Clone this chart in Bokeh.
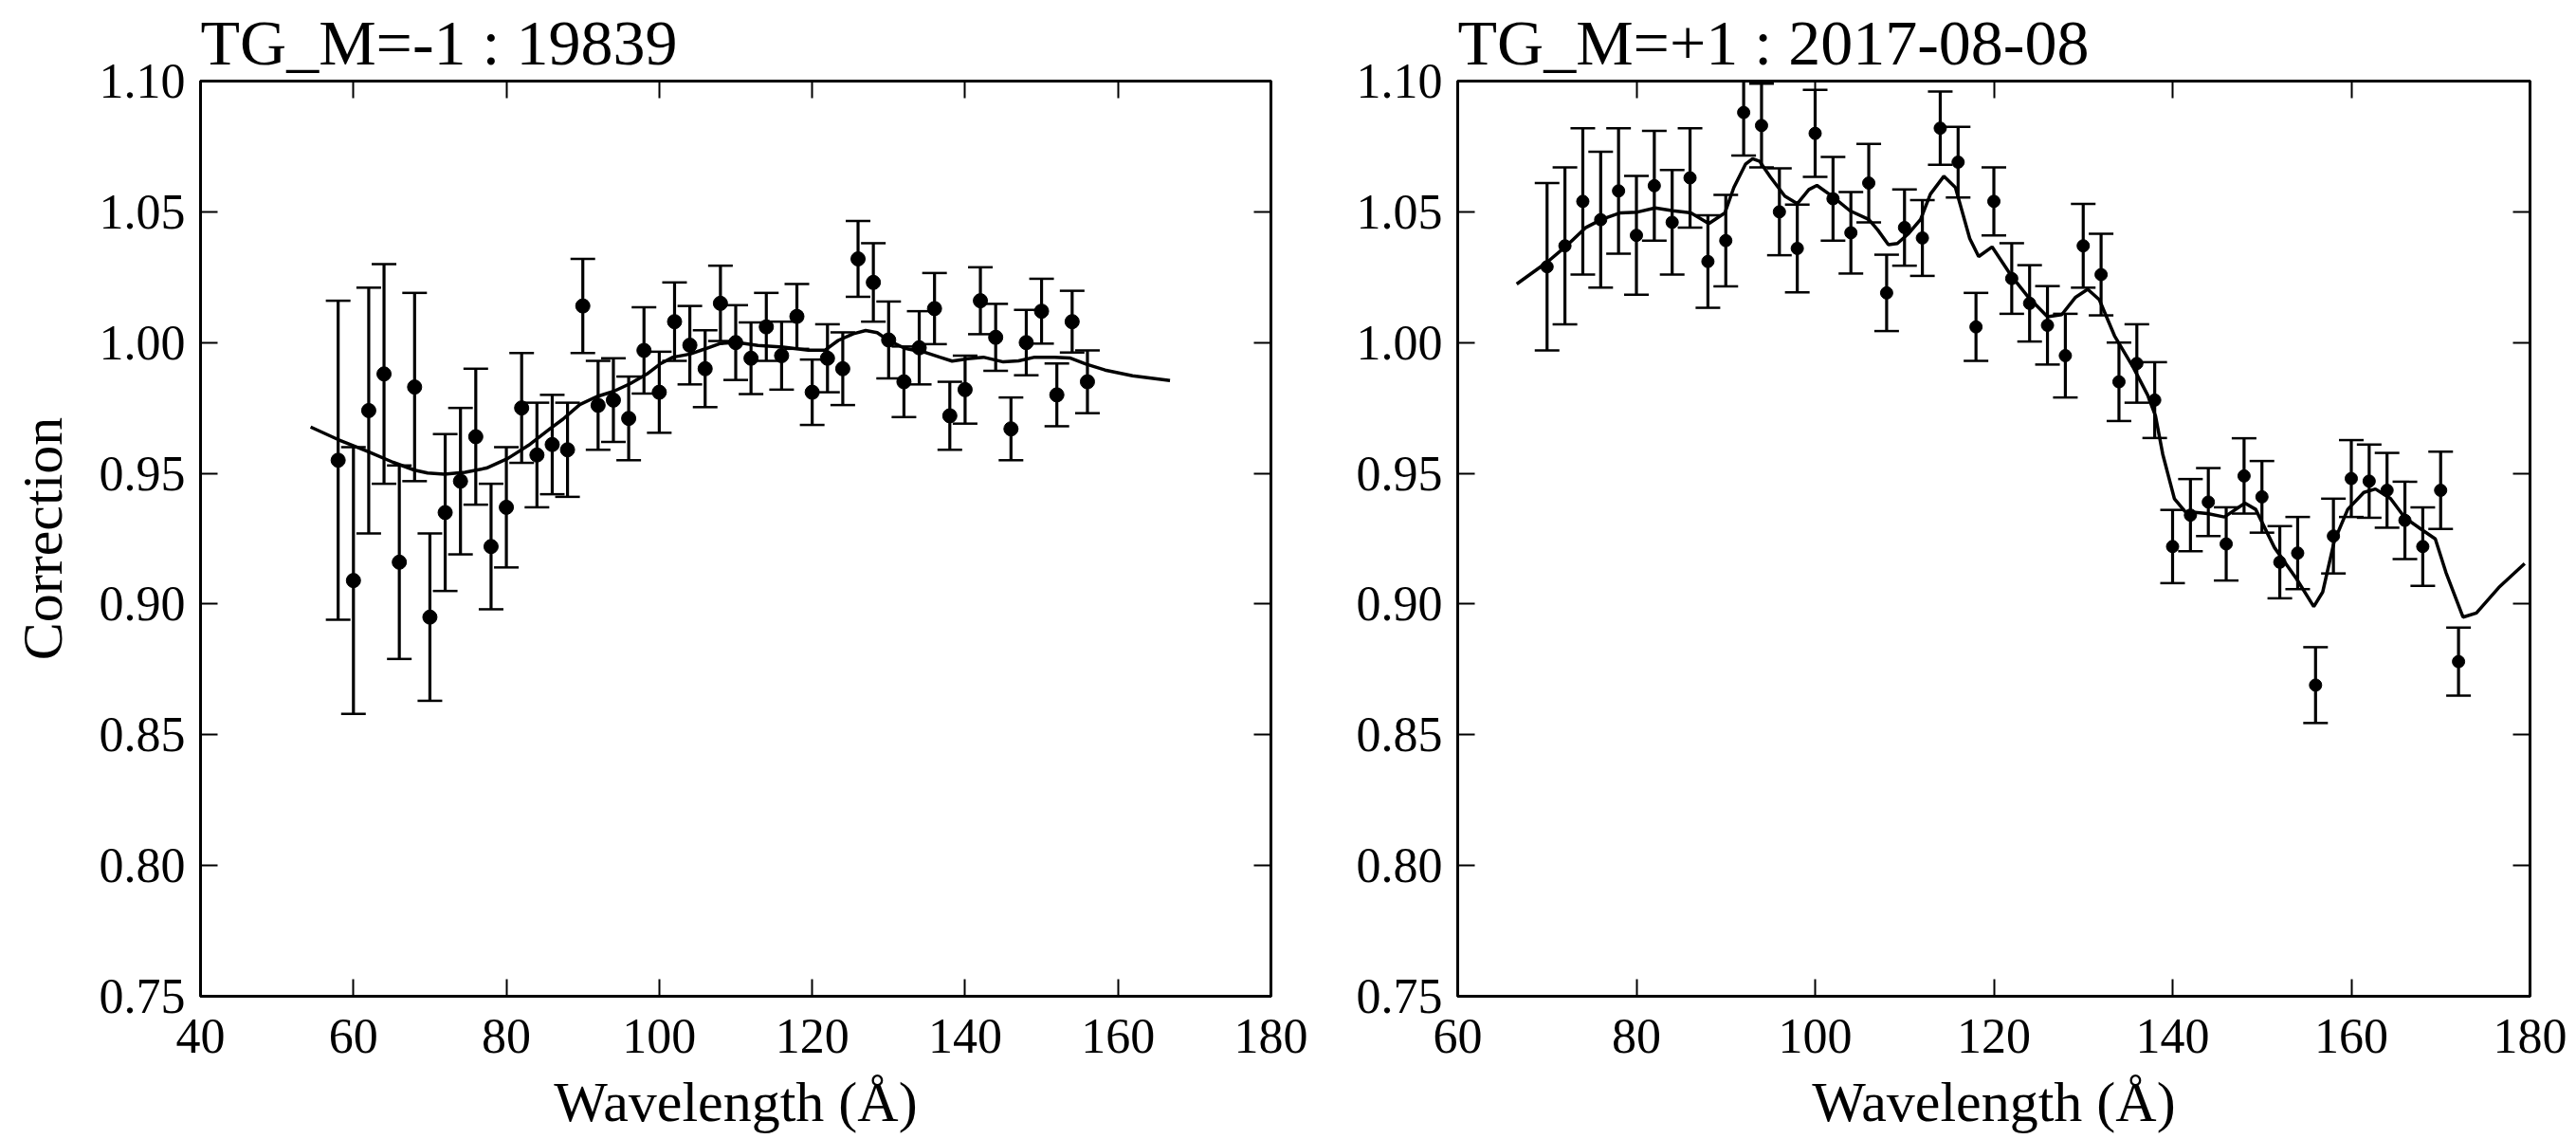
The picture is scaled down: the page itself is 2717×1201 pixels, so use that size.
from bokeh.plotting import figure
from bokeh.layouts import row
from bokeh.models import (LinearAxis, FixedTicker, NumeralTickFormatter, Range1d,
                          ColumnDataSource, CustomJSTickFormatter)
from bokeh.embed import file_html
from bokeh.resources import INLINE

# ---------------- data: left panel (TG_M=-1 : 19839) ----------------
left_title = "TG_M=-1 : 19839"
left_wave = [58, 60, 62, 64, 66, 68, 70, 72, 74, 76, 78, 80, 82, 84, 86, 88, 90, 92, 94, 96,
             98, 100, 102, 104, 106, 108, 110, 112, 114, 116, 118, 120, 122, 124, 126, 128,
             130, 132, 134, 136, 138, 140, 142, 144, 146, 148, 150, 152, 154, 156]
left_corr = [0.955, 0.909, 0.974, 0.988, 0.916, 0.983, 0.895, 0.935, 0.947, 0.964,
             0.922, 0.937, 0.975, 0.957, 0.961, 0.959, 1.014, 0.976, 0.978, 0.971,
             0.997, 0.981, 1.008, 0.999, 0.990, 1.015, 1.000, 0.994, 1.006, 0.995,
             1.010, 0.981, 0.994, 0.990, 1.032, 1.023, 1.001, 0.985, 0.998, 1.013,
             0.972, 0.982, 1.016, 1.002, 0.967, 1.000, 1.012, 0.980, 1.008, 0.985]
left_err = [0.061, 0.051, 0.047, 0.042, 0.037, 0.036, 0.032, 0.030, 0.028, 0.026,
            0.024, 0.023, 0.021, 0.020, 0.019, 0.018, 0.018, 0.017, 0.016, 0.016,
            0.0165, 0.0155, 0.015, 0.015, 0.0147, 0.0144, 0.0143, 0.0137, 0.013, 0.013,
            0.0124, 0.0125, 0.013, 0.0139, 0.0145, 0.015, 0.0147, 0.0135, 0.014, 0.0136,
            0.013, 0.013, 0.0128, 0.0128, 0.012, 0.0125, 0.0124, 0.012, 0.0118, 0.012]
left_model_wave = [54.4, 58.0, 61.9, 65.2, 68.0, 69.7, 71.9, 74.6, 77.4, 80.2, 82.9, 85.7,
                   87.4, 89.6, 91.8, 94.0, 96.2, 98.4, 100.1, 101.8, 104.0, 106.2, 107.9,
                   110.1, 112.9, 116.2, 119.5, 121.7, 123.4, 125.4, 127.0, 128.5, 130.0,
                   132.1, 134.7, 136.7, 138.3, 140.3, 142.4, 145.0, 147.0, 149.1, 151.7,
                   153.7, 155.8, 158.3, 161.9, 166.8]
left_model_corr = [0.9677, 0.9629, 0.9583, 0.9542, 0.9512, 0.9501, 0.9497, 0.9504, 0.952,
                   0.9557, 0.9607, 0.967, 0.9707, 0.9763, 0.9793, 0.9813, 0.9843, 0.988,
                   0.9918, 0.9944, 0.9956, 0.9978, 0.9996, 1.0001, 0.9989, 0.9983, 0.9971,
                   0.9971, 1.0008, 1.0034, 1.0046, 1.0038, 1.0008, 0.9978, 0.9963, 0.9944,
                   0.9929, 0.9938, 0.9944, 0.9926, 0.993, 0.9944, 0.9944, 0.9941, 0.9918,
                   0.9895, 0.9873, 0.9855]

# ---------------- data: right panel (TG_M=+1 : 2017-08-08) ----------------
right_title = "TG_M=+1 : 2017-08-08"
right_wave = [70, 72, 74, 76, 78, 80, 82, 84, 86, 88, 90, 92, 94, 96, 98, 100, 102, 104,
              106, 108, 110, 112, 114, 116, 118, 120, 122, 124, 126, 128, 130, 132, 134,
              136, 138, 140, 142, 144, 146, 148, 150, 152, 154, 156, 158, 160, 162, 164,
              166, 168, 170, 172]
right_corr = [1.029, 1.037, 1.054, 1.047, 1.058, 1.041, 1.060, 1.046, 1.063, 1.031,
              1.039, 1.088, 1.083, 1.050, 1.036, 1.080, 1.055, 1.042, 1.061, 1.019,
              1.044, 1.040, 1.082, 1.069, 1.006, 1.054, 1.0245, 1.015, 1.0066, 0.995,
              1.037, 1.026, 0.985, 0.992, 0.978, 0.922, 0.934, 0.939, 0.923, 0.949,
              0.941, 0.916, 0.9195, 0.869, 0.926, 0.948, 0.947, 0.9435, 0.932, 0.922,
              0.9435, 0.878]
right_err = [0.032, 0.030, 0.028, 0.026, 0.024, 0.0227, 0.021, 0.020, 0.019, 0.0177,
             0.0175, 0.0165, 0.016, 0.0166, 0.0168, 0.0166, 0.016, 0.0156, 0.015, 0.0146,
             0.0146, 0.0145, 0.014, 0.0135, 0.013, 0.013, 0.0135, 0.0146, 0.015, 0.016,
             0.016, 0.0156, 0.015, 0.015, 0.0145, 0.014, 0.0138, 0.013, 0.014, 0.0144,
             0.0137, 0.0138, 0.0138, 0.0145, 0.0143, 0.0147, 0.014, 0.0143, 0.0148, 0.015,
             0.0148, 0.013]
right_model_wave = [66.6, 70.1, 72.3, 74.3, 76.1, 78.2, 80.1, 82.1, 84.1, 86.1, 88.1, 89.9,
                    90.9, 92.2, 93.0, 93.8, 95.0, 96.6, 98.0, 99.3, 100.2, 101.9, 103.9,
                    106.0, 107.0, 108.2, 109.2, 110.4, 111.8, 112.9, 114.4, 115.7, 117.3,
                    118.3, 119.8, 122.0, 123.9, 126.0, 127.6, 129.1, 130.5, 131.8, 133.5,
                    135.6, 137.2, 138.1, 138.9, 140.2, 141.4, 143.9, 145.8, 148.1, 149.3,
                    151.4, 153.9, 155.8, 156.8, 158.1, 159.6, 161.4, 162.7, 164.4, 166.0,
                    167.7, 169.4, 170.6, 172.5, 174.0, 176.5, 179.4]
right_model_corr = [1.0224, 1.031, 1.0374, 1.0439, 1.0471, 1.0496, 1.0499, 1.0515, 1.0504,
                    1.0496, 1.0455, 1.0496, 1.0593, 1.0682, 1.0703, 1.0693, 1.0633, 1.056,
                    1.0531, 1.0585, 1.0601, 1.056, 1.0504, 1.0471, 1.0431, 1.0374, 1.0379,
                    1.0415, 1.0471, 1.0568, 1.0636, 1.0593, 1.0398, 1.0329, 1.0366, 1.0253,
                    1.0172, 1.0099, 1.0107, 1.0172, 1.0204, 1.0164, 1.0026, 0.9905, 0.98,
                    0.9718, 0.9573, 0.9403, 0.9354, 0.9346, 0.9333, 0.9386, 0.9362, 0.9216,
                    0.9095, 0.899, 0.9046, 0.9241, 0.9362, 0.9427, 0.944, 0.9403, 0.933,
                    0.9289, 0.9249, 0.912, 0.895, 0.8966, 0.9063, 0.9155]

y_ticks = [0.75, 0.80, 0.85, 0.90, 0.95, 1.00, 1.05, 1.10]
left_x_ticks = [40, 60, 80, 100, 120, 140, 160, 180]
right_x_ticks = [60, 80, 100, 120, 140, 160, 180]
x_label = "Wavelength (Å)"
y_label = "Correction"

FONT = "Liberation Serif"
FIG_H = 1200
BORDER_TOP = 85
BORDER_BOTTOM = 150


def style_axis(ax, ticks, labeled):
    ax.ticker = FixedTicker(ticks=ticks)
    ax.major_tick_in = 18
    ax.major_tick_out = 0
    ax.minor_tick_in = 0
    ax.minor_tick_out = 0
    ax.minor_tick_line_color = None
    ax.major_tick_line_width = 2
    ax.major_tick_line_color = "black"
    ax.axis_line_width = 3
    ax.axis_line_color = "black"
    if labeled:
        ax.major_label_text_font = FONT
        ax.major_label_text_font_size = "52px"
        ax.major_label_text_color = "black"
        ax.axis_label_text_font = FONT
        ax.axis_label_text_font_size = "60px"
        ax.axis_label_text_font_style = "normal"
        ax.axis_label_text_color = "black"
    else:
        ax.formatter = CustomJSTickFormatter(code="return ''")
        ax.major_label_standoff = 0
        ax.major_label_text_font_size = "0px"


def make_panel(title, wave, corr, err, mwave, mcorr, xmin, xticks, min_left, frame_w, ylabel, dot):
    p = figure(width=min_left + frame_w + 40, height=FIG_H,
               x_range=Range1d(xmin, 180), y_range=Range1d(0.75, 1.10),
               output_backend="svg", toolbar_location=None,
               min_border_left=min_left, min_border_right=40,
               min_border_top=BORDER_TOP, min_border_bottom=BORDER_BOTTOM)
    p.grid.visible = False
    p.background_fill_color = "white"
    p.border_fill_color = "white"
    p.outline_line_color = "black"
    p.outline_line_width = 3

    p.title.text = title
    p.title.text_font = FONT
    p.title.text_font_size = "68px"
    p.title.text_font_style = "normal"
    p.title.text_color = "black"
    p.title.standoff = 5
    p.title.align = "left"

    xa = p.xaxis[0]
    style_axis(xa, xticks, True)
    xa.major_label_standoff = 24
    xa.axis_label = x_label
    xa.axis_label_standoff = 16

    ya = p.yaxis[0]
    style_axis(ya, y_ticks, True)
    ya.formatter = NumeralTickFormatter(format="0.00")
    ya.major_label_standoff = 16
    if ylabel:
        ya.axis_label = ylabel
        ya.axis_label_standoff = 24

    top = LinearAxis()
    style_axis(top, xticks, False)
    p.add_layout(top, "above")
    right = LinearAxis()
    style_axis(right, y_ticks, False)
    p.add_layout(right, "right")

    upper = [c + e for c, e in zip(corr, err)]
    lower = [c - e for c, e in zip(corr, err)]
    src = ColumnDataSource(dict(x=wave, y=corr, upper=upper, lower=lower))
    p.segment(x0="x", y0="lower", x1="x", y1="upper", source=src,
              line_color="black", line_width=3.2)
    p.scatter(x="x", y="upper", source=src, marker="dash", size=26,
              line_color="black", line_width=2.5)
    p.scatter(x="x", y="lower", source=src, marker="dash", size=26,
              line_color="black", line_width=2.5)
    p.scatter(x="x", y="y", source=src, marker="circle", size=dot,
              fill_color="black", line_color="black")
    p.line(mwave, mcorr, line_color="black", line_width=3.5)
    return p


p1 = make_panel(left_title, left_wave, left_corr, left_err, left_model_wave, left_model_corr,
                40, left_x_ticks, 211, 1129, y_label, 15)
p2 = make_panel(right_title, right_wave, right_corr, right_err, right_model_wave, right_model_corr,
                60, right_x_ticks, 157, 1131, None, 13)

layout = row(p1, p2)
open("out.html", "w").write(file_html(layout, INLINE))
